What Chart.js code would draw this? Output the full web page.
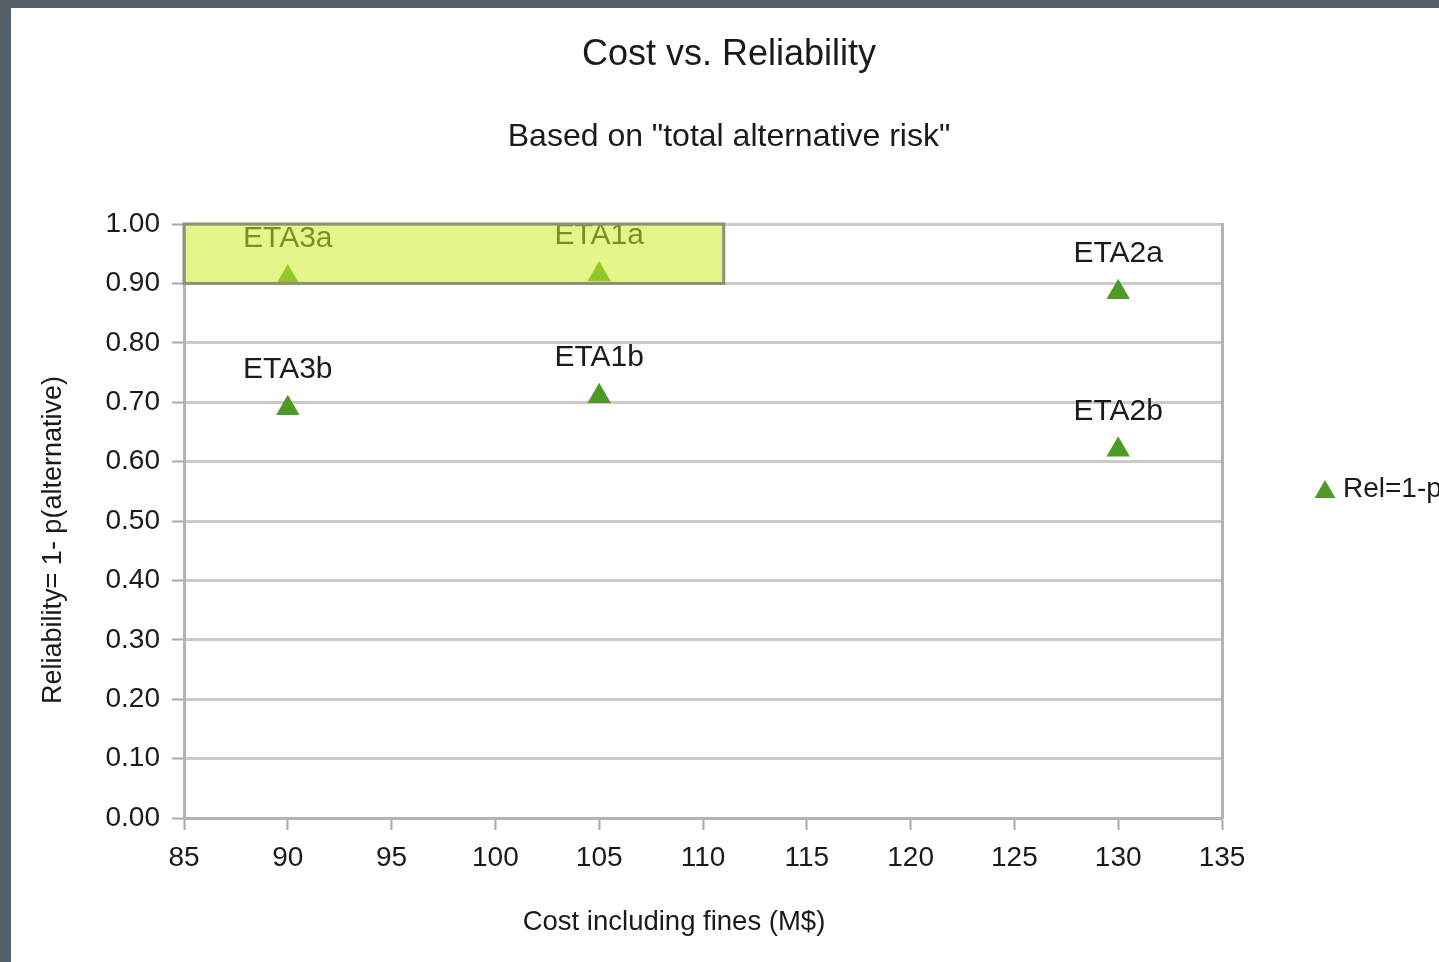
<!DOCTYPE html>
<html>
<head>
<meta charset="utf-8">
<title>Cost vs. Reliability</title>
<script src="https://cdn.jsdelivr.net/npm/chart.js@4/dist/chart.umd.min.js"></script>
<style>
  html, body { margin: 0; padding: 0; background: #576069; overflow: hidden; }
  #wrap { position: absolute; left: 11px; top: 8px; width: 1428px; height: 954px; background: #ffffff; }
  canvas { display: block; }
</style>
</head>
<body>
<div id="wrap"><canvas id="chart" width="1428" height="954"></canvas></div>
<script>
// Alternatives: cost including fines (M$) and reliability = 1 - p(alternative)
const alternatives = ['ETA3a', 'ETA1a', 'ETA2a', 'ETA3b', 'ETA1b', 'ETA2b'];
const costs        = [90, 105, 130, 90, 105, 130];
const reliability  = [0.91, 0.915, 0.885, 0.69, 0.71, 0.62];

// Axis tick values
const costTicks        = [85, 90, 95, 100, 105, 110, 115, 120, 125, 130, 135];
const reliabilityTicks = [0, 0.1, 0.2, 0.3, 0.4, 0.5, 0.6, 0.7, 0.8, 0.9, 1.0];

// Highlighted region (cost range, reliability range)
const highlightCost        = [85, 111];
const highlightReliability = [0.9, 1.0];

const seriesName = 'Rel=1-p(alternative)';
const FONT = "'Liberation Sans', Arial, sans-serif";
const GREEN = '#4e9a26';
const INK = '#1a1a1a';

Chart.defaults.font.family = FONT;

function triangle(ctx, cx, cy, r) {
  ctx.beginPath();
  ctx.moveTo(cx, cy - r);
  ctx.lineTo(cx + r * Math.sin(2 * Math.PI / 3), cy - r * Math.cos(2 * Math.PI / 3));
  ctx.lineTo(cx + r * Math.sin(4 * Math.PI / 3), cy - r * Math.cos(4 * Math.PI / 3));
  ctx.closePath();
  ctx.fill();
}

const annotations = {
  id: 'annotations',
  afterDatasetsDraw(chart) {
    const ctx = chart.ctx;
    const meta = chart.getDatasetMeta(0);
    const xs = chart.scales.x, ys = chart.scales.y;

    // point labels above each marker
    ctx.save();
    ctx.font = '30px ' + FONT;
    ctx.fillStyle = INK;
    ctx.textAlign = 'center';
    ctx.textBaseline = 'alphabetic';
    meta.data.forEach((pt, i) => {
      ctx.fillText(alternatives[i], pt.x, pt.y - 30);
    });
    ctx.restore();

    // translucent highlight box over the high-reliability, low-cost alternatives
    const x0 = xs.getPixelForValue(highlightCost[0]);
    const x1 = xs.getPixelForValue(highlightCost[1]);
    const y0 = ys.getPixelForValue(highlightReliability[1]);
    const y1 = ys.getPixelForValue(highlightReliability[0]);
    ctx.save();
    ctx.fillStyle = 'rgba(206, 236, 40, 0.55)';
    ctx.fillRect(x0, y0, x1 - x0, y1 - y0);
    ctx.strokeStyle = '#8a9176';
    ctx.lineWidth = 3;
    ctx.strokeRect(x0, y0, x1 - x0, y1 - y0);
    ctx.restore();
  },
  afterDraw(chart) {
    const ctx = chart.ctx;
    const area = chart.chartArea;
    ctx.save();
    ctx.fillStyle = INK;
    ctx.textAlign = 'center';
    ctx.textBaseline = 'alphabetic';

    // titles
    ctx.font = '36px ' + FONT;
    ctx.fillText('Cost vs. Reliability', chart.width / 2 + 4, 57);
    ctx.font = '32px ' + FONT;
    ctx.fillText('Based on "total alternative risk"', chart.width / 2 + 4, 138);

    // axis titles
    ctx.font = '27.5px ' + FONT;
    ctx.fillText('Cost including fines (M$)', (area.left + area.right) / 2 - 29, 922);
    ctx.save();
    ctx.translate(50, 532);
    ctx.rotate(-Math.PI / 2);
    ctx.font = '27px ' + FONT;
    ctx.fillText('Reliability= 1- p(alternative)', 0, 0);
    ctx.restore();
    ctx.restore();

    // legend
    const ds = chart.data.datasets[0];
    ctx.save();
    ctx.fillStyle = GREEN;
    triangle(ctx, 1314, 484, 12);
    ctx.fillStyle = INK;
    ctx.font = '28px ' + FONT;
    ctx.textAlign = 'left';
    ctx.fillText(ds.label, 1332, 489);
    ctx.restore();
  }
};

new Chart(document.getElementById('chart'), {
  type: 'scatter',
  data: {
    datasets: [{
      label: seriesName,
      data: costs.map((c, i) => ({ x: c, y: reliability[i] })),
      pointStyle: 'triangle',
      pointRadius: 13.5,
      pointHoverRadius: 13.5,
      pointBackgroundColor: GREEN,
      pointBorderColor: GREEN,
      pointBorderWidth: 0
    }]
  },
  options: {
    responsive: false,
    animation: false,
    events: [],
    layout: { padding: { top: 216, right: 217, bottom: 0, left: 0 } },
    plugins: {
      legend: { display: false },
      title: { display: false },
      tooltip: { enabled: false }
    },
    scales: {
      x: {
        type: 'linear',
        position: 'bottom',
        min: 85,
        max: 135,
        afterBuildTicks: s => { s.ticks = costTicks.map(v => ({ value: v })); },
        afterFit: s => { s.height = 144; },
        ticks: { color: INK, font: { size: 28 }, padding: 11, maxRotation: 0 },
        grid: { drawOnChartArea: false, tickLength: 12, tickColor: '#a8a8a8', tickWidth: 2 },
        border: { color: '#b3b3b3', width: 3 }
      },
      y: {
        type: 'linear',
        position: 'left',
        min: 0,
        max: 1,
        afterBuildTicks: s => { s.ticks = reliabilityTicks.map(v => ({ value: v })); },
        afterFit: s => { s.width = 173; },
        ticks: { color: INK, font: { size: 28 }, padding: 12, callback: v => v.toFixed(2) },
        grid: { color: '#cbcbcb', lineWidth: 3, tickLength: 12, tickColor: '#a8a8a8', tickWidth: 2 },
        border: { color: '#b3b3b3', width: 3 }
      },
      yRight: {
        type: 'linear',
        position: 'right',
        min: 0,
        max: 1,
        afterFit: s => { s.width = 0; },
        ticks: { display: false },
        grid: { display: false },
        border: { color: '#b3b3b3', width: 3 }
      }
    }
  },
  plugins: [annotations]
});
</script>
</body>
</html>
